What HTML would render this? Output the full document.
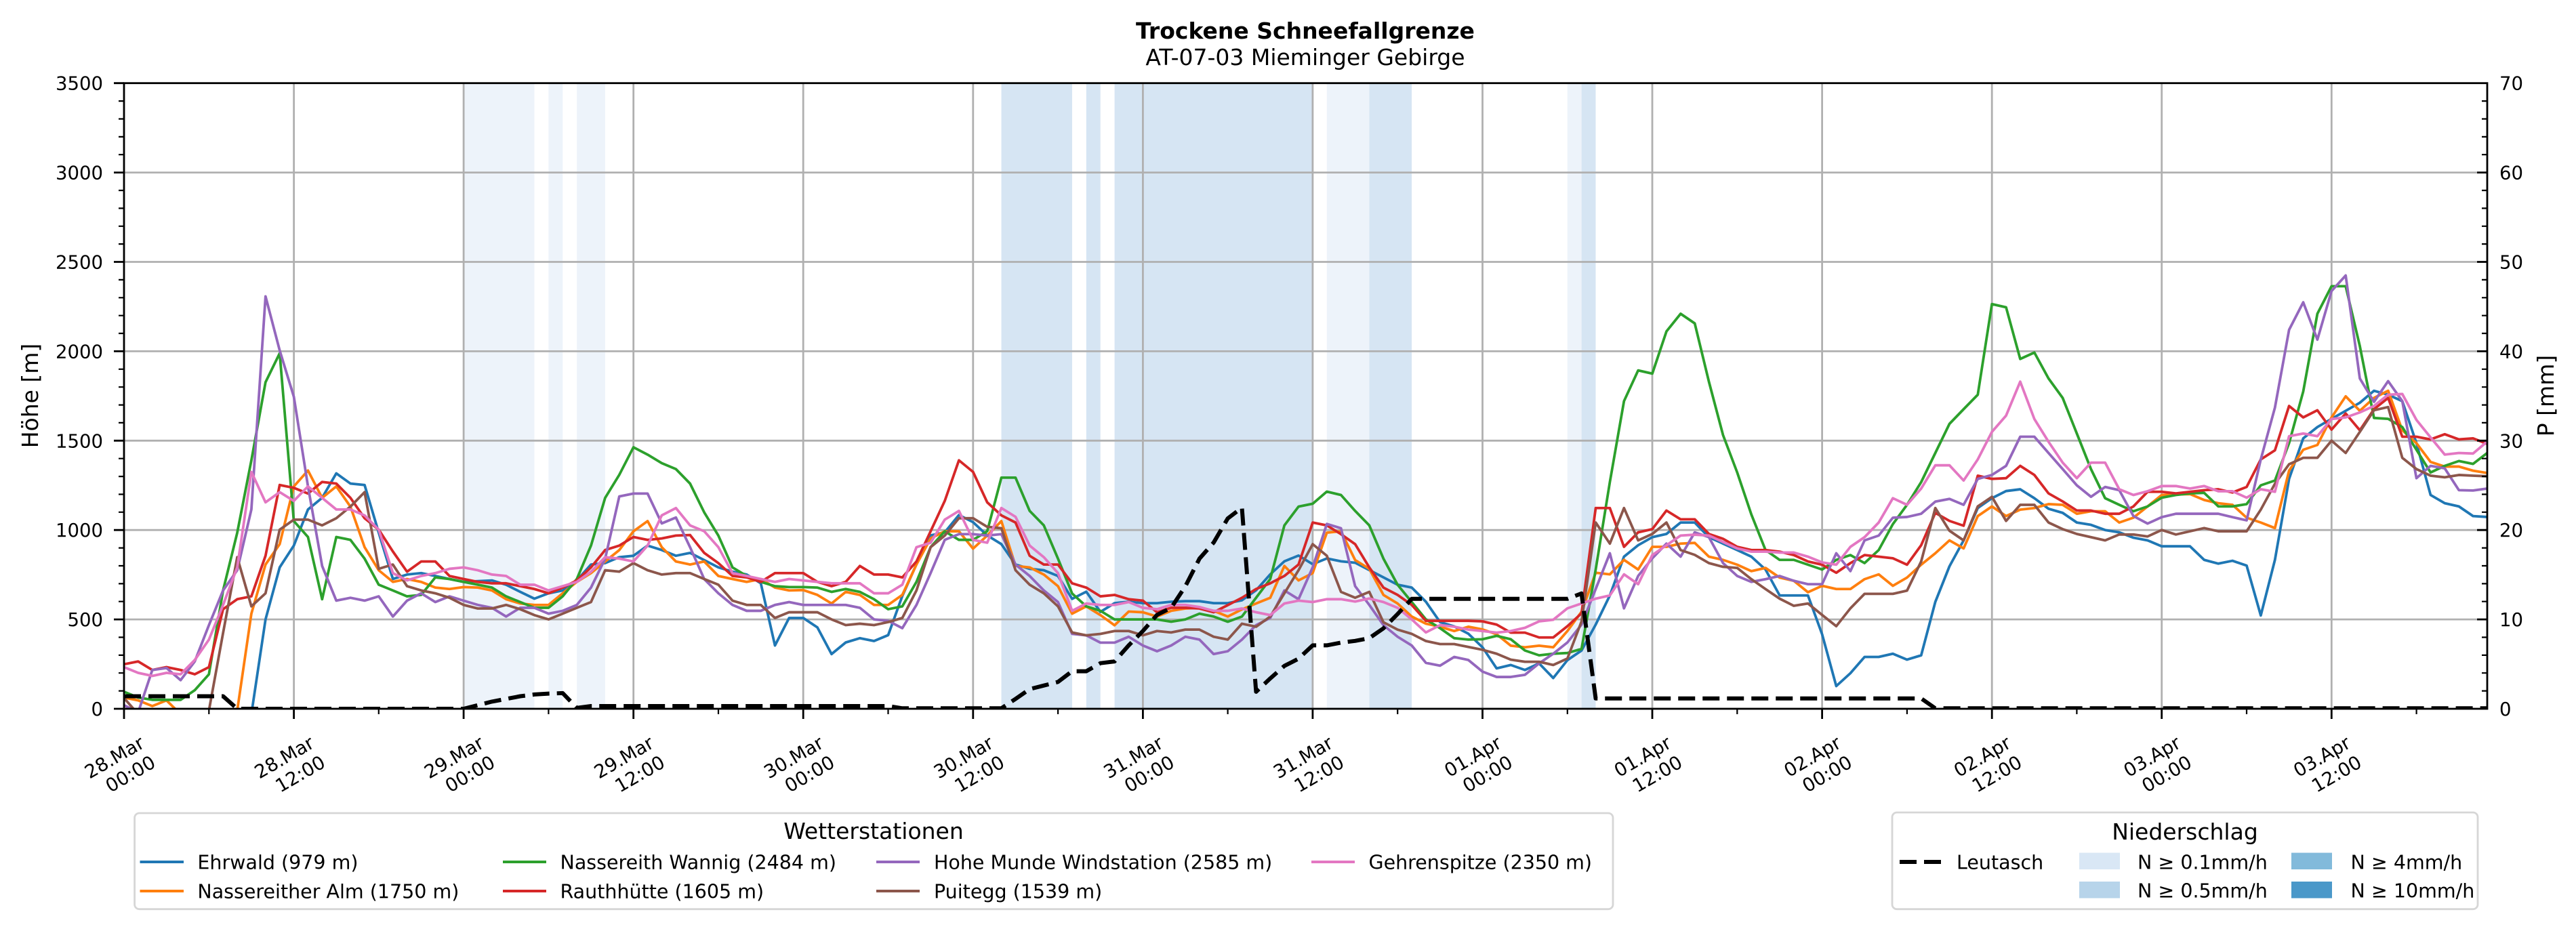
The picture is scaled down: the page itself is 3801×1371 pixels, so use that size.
<!DOCTYPE html>
<html><head><meta charset="utf-8"><title>Trockene Schneefallgrenze</title>
<style>
html,body{margin:0;padding:0;background:#fff;}
svg{display:block;font-family:"DejaVu Sans","Liberation Sans",sans-serif;}
</style></head><body>
<svg width="3801" height="1371" viewBox="0 0 3801 1371" xmlns="http://www.w3.org/2000/svg">
<defs><clipPath id="pc"><rect x="183" y="122.7" width="3487" height="923.3"/></clipPath></defs>
<rect width="3801" height="1371" fill="#fff"/>
<text x="1926" y="57" text-anchor="middle" font-size="33" font-weight="bold">Trockene Schneefallgrenze</text>
<text x="1926" y="96" text-anchor="middle" font-size="33">AT-07-03 Mieminger Gebirge</text>

<g clip-path="url(#pc)">
 <g transform="translate(183 1046) scale(20.88 -0.2638)">
  <g fill="#edf3fa">
   <rect x="24" y="0" width="5" height="3500"/>
   <rect x="30" y="0" width="1" height="3500"/>
   <rect x="32" y="0" width="2" height="3500"/>
   <rect x="85" y="0" width="3" height="3500"/>
   <rect x="102" y="0" width="1" height="3500"/>
  </g>
  <g fill="#d6e5f3">
   <rect x="62" y="0" width="5" height="3500"/>
   <rect x="68" y="0" width="1" height="3500"/>
   <rect x="70" y="0" width="14" height="3500"/>
   <rect x="88" y="0" width="3" height="3500"/>
   <rect x="103" y="0" width="1" height="3500"/>
  </g>
 </g>
 <g stroke="#b0b0b0" stroke-width="2.8" fill="none">
  <path d="M433.6,122.7V1046M684.1,122.7V1046M934.7,122.7V1046M1185.2,122.7V1046M1435.8,122.7V1046M1686.4,122.7V1046M1936.9,122.7V1046M2187.5,122.7V1046M2438,122.7V1046M2688.6,122.7V1046M2939.2,122.7V1046M3189.7,122.7V1046M3440.3,122.7V1046"/>
  <path d="M183,914.1H3670M183,782.2H3670M183,650.3H3670M183,518.4H3670M183,386.5H3670M183,254.6H3670"/>
 </g>
 <g transform="translate(183 1046) scale(20.88 -0.2638)" fill="none" stroke-width="3.8" stroke-linejoin="round">
  <polyline vector-effect="non-scaling-stroke" stroke="#1f77b4" points="0,-30 1,-30 2,-30 3,-30 4,-30 5,-30 6,-30 7,-30 8,-30 9,-30 10,500 11,791 12,913 13,1115 14,1180 15,1317 16,1260 17,1252 18,985 19,726 20,751 21,759 22,743 23,726 24,710 25,714 26,718 27,694 28,654 29,616 30,646 31,662 32,718 33,807 34,815 35,848 36,856 37,913 38,888 39,856 40,872 41,832 42,791 43,767 44,751 45,702 46,354 47,508 48,508 49,455 50,306 51,371 52,395 53,379 54,412 55,631 56,809 57,970 58,987 59,1084 60,1044 61,970 62,921 63,807 64,783 65,775 66,743 67,615 68,655 69,542 70,591 71,599 72,591 73,591 74,599 75,602 76,602 77,591 78,591 79,607 80,663 81,752 82,825 83,857 84,809 85,841 86,825 87,817 88,776 89,735 90,694 91,678 92,599 93,485 94,461 95,420 96,344 97,226 98,245 99,217 100,254 101,172 102,272 103,326 104,471 105,634 106,851 107,915 108,960 109,978 110,1042 111,1042 112,960 113,924 114,888 115,851 116,779 117,634 118,634 119,634 120,417 121,127 122,199 123,290 124,290 125,308 126,275 127,299 128,598 129,797 130,942 131,1123 132,1178 133,1218 134,1228 135,1178 136,1119 137,1096 138,1042 139,1029 140,1000 141,987 142,957 143,942 144,909 145,909 146,909 147,833 148,812 149,828 150,801 151,522 152,833 153,1286 154,1513 155,1576 156,1622 157,1667 158,1712 159,1779 160,1757 161,1721 162,1486 163,1196 164,1150 165,1132 166,1078 167,1073"/>
  <polyline vector-effect="non-scaling-stroke" stroke="#ff7f0e" points="0,63 1,47 2,15 3,47 4,-30 5,-30 6,-30 7,-30 8,-10 9,532 10,807 11,921 12,1244 13,1333 14,1180 15,1244 16,1131 17,904 18,775 19,710 20,726 21,710 22,678 23,670 24,681 25,678 26,662 27,613 28,589 29,581 30,581 31,646 32,710 33,759 34,824 35,888 36,993 37,1050 38,904 39,824 40,807 41,824 42,743 43,726 44,710 45,726 46,678 47,662 48,664 49,637 50,589 51,654 52,637 53,581 54,581 55,637 56,807 57,953 58,993 59,993 60,896 61,969 62,1050 63,799 64,791 65,751 66,686 67,532 68,573 69,524 70,467 71,544 72,540 73,516 74,548 75,561 76,565 77,548 78,516 79,556 80,589 81,621 82,799 83,718 84,759 85,985 86,993 87,832 88,783 89,637 90,589 91,516 92,476 93,459 94,435 95,459 96,444 97,417 98,353 99,344 100,353 101,344 102,435 103,543 104,761 105,752 106,833 107,779 108,906 109,906 110,924 111,928 112,851 113,833 114,806 115,770 116,788 117,734 118,716 119,652 120,688 121,670 122,670 123,725 124,752 125,688 126,734 127,806 128,870 129,942 130,897 131,1078 132,1132 133,1078 134,1114 135,1123 136,1145 137,1141 138,1091 139,1105 140,1105 141,1042 142,1069 143,1132 144,1196 145,1199 146,1201 147,1168 148,1150 149,1141 150,1069 151,1042 152,1011 153,1332 154,1449 155,1476 156,1630 157,1748 158,1667 159,1739 160,1779 161,1558 162,1486 163,1381 164,1355 165,1355 166,1332 167,1319"/>
  <polyline vector-effect="non-scaling-stroke" stroke="#2ca02c" points="0,95 1,63 2,50 3,50 4,50 5,104 6,193 7,662 8,985 9,1390 10,1827 11,1989 12,1050 13,961 14,613 15,961 16,945 17,840 18,694 19,662 20,629 21,637 22,735 23,726 24,710 25,694 26,678 27,629 28,597 29,565 30,565 31,629 32,726 33,913 34,1180 35,1309 36,1463 37,1422 38,1374 39,1341 40,1260 41,1099 42,969 43,791 44,743 45,710 46,686 47,681 48,681 49,678 50,654 51,670 52,654 53,613 54,557 55,573 56,710 57,904 58,993 59,945 60,945 61,993 62,1293 63,1293 64,1107 65,1026 66,840 67,645 68,573 69,548 70,500 71,500 72,500 73,500 74,487 75,500 76,532 77,516 78,487 79,516 80,621 81,726 82,1026 83,1131 84,1147 85,1215 86,1196 87,1107 88,1026 89,840 90,694 91,597 92,500 93,451 94,395 95,387 96,389 97,408 98,389 99,326 100,299 101,308 102,312 103,335 104,779 105,1268 106,1721 107,1893 108,1875 109,2111 110,2210 111,2156 112,1830 113,1531 114,1322 115,1087 116,888 117,833 118,833 119,806 120,779 121,833 122,860 123,815 124,888 125,1033 126,1141 127,1268 128,1431 129,1594 130,1676 131,1757 132,2264 133,2246 134,1957 135,1993 136,1848 137,1739 138,1540 139,1341 140,1178 141,1141 142,1105 143,1132 144,1181 145,1196 146,1205 147,1208 148,1132 149,1132 150,1145 151,1250 152,1277 153,1486 154,1775 155,2210 156,2364 157,2364 158,2029 159,1627 160,1622 161,1576 162,1449 163,1322 164,1359 165,1386 166,1370 167,1431"/>
  <polyline vector-effect="non-scaling-stroke" stroke="#d62728" points="0,249 1,265 2,217 3,233 4,217 5,193 6,233 7,557 8,613 9,629 10,856 11,1252 12,1236 13,1204 14,1269 15,1260 16,1180 17,1066 18,1002 19,880 20,767 21,824 22,824 23,743 24,726 25,710 26,702 27,702 28,686 29,670 30,646 31,678 32,718 33,791 34,888 35,913 36,961 37,945 38,953 39,969 40,972 41,872 42,815 43,743 44,735 45,710 46,759 47,759 48,759 49,710 50,686 51,710 52,799 53,751 54,751 55,735 56,824 57,993 58,1163 59,1390 60,1325 61,1155 62,1082 63,1042 64,856 65,807 66,807 67,702 68,678 69,629 70,637 71,613 72,605 73,540 74,565 75,565 76,561 77,540 78,580 79,621 80,670 81,702 82,743 83,807 84,1042 85,1026 86,977 87,921 88,791 89,678 90,637 91,581 92,492 93,492 94,492 95,492 96,489 97,471 98,426 99,426 100,399 101,399 102,462 103,534 104,1123 105,1123 106,906 107,987 108,1005 109,1109 110,1060 111,1060 112,978 113,951 114,906 115,888 116,888 117,879 118,860 119,824 120,806 121,761 122,815 123,860 124,851 125,842 126,806 127,915 128,1096 129,1051 130,1024 131,1304 132,1286 133,1290 134,1359 135,1308 136,1205 137,1160 138,1109 139,1109 140,1091 141,1091 142,1132 143,1214 144,1214 145,1205 146,1214 147,1223 148,1228 149,1210 150,1241 151,1395 152,1446 153,1694 154,1630 155,1670 156,1562 157,1652 158,1558 159,1676 160,1739 161,1522 162,1522 163,1507 164,1536 165,1507 166,1513 167,1482"/>
  <polyline vector-effect="non-scaling-stroke" stroke="#9467bd" points="0,20 1,-20 2,217 3,228 4,160 5,265 6,468 7,662 8,775 9,1115 10,2307 11,2005 12,1746 13,1244 14,799 15,605 16,621 17,605 18,629 19,516 20,605 21,646 22,597 23,629 24,605 25,581 26,565 27,516 28,565 29,565 30,532 31,548 32,581 33,678 34,840 35,1188 36,1204 37,1204 38,1037 39,1070 40,904 41,726 42,646 43,581 44,548 45,548 46,581 47,597 48,581 49,581 50,581 51,581 52,565 53,500 54,492 55,451 56,581 57,759 58,945 59,977 60,977 61,969 62,977 63,807 64,743 65,662 66,597 67,419 68,411 69,370 70,370 71,403 72,354 73,322 74,354 75,403 76,387 77,306 78,322 79,387 80,468 81,508 82,662 83,613 84,791 85,1034 86,1010 87,686 88,581 89,468 90,403 91,354 92,257 93,241 94,290 95,273 96,208 97,178 98,178 99,190 100,254 101,308 102,371 103,471 104,670 105,870 106,562 107,743 108,842 109,924 110,851 111,987 112,960 113,815 114,743 115,710 116,725 117,743 118,716 119,697 120,697 121,870 122,770 123,942 124,969 125,1069 126,1073 127,1091 128,1159 129,1174 130,1141 131,1286 132,1308 133,1359 134,1522 135,1522 136,1431 137,1341 138,1250 139,1186 140,1241 141,1223 142,1078 143,1036 144,1072 145,1091 146,1091 147,1091 148,1091 149,1072 150,1054 151,1395 152,1685 153,2120 154,2274 155,2065 156,2337 157,2424 158,1848 159,1717 160,1833 161,1721 162,1290 163,1359 164,1345 165,1223 166,1221 167,1232"/>
  <polyline vector-effect="non-scaling-stroke" stroke="#8c564b" points="0,60 1,-30 2,-30 3,-30 4,-30 5,-30 6,-10 7,424 8,848 9,573 10,646 11,1002 12,1058 13,1058 14,1026 15,1066 16,1131 17,1212 18,783 19,807 20,686 21,662 22,646 23,621 24,581 25,561 26,561 27,581 28,557 29,524 30,500 31,532 32,565 33,597 34,775 35,767 36,815 37,775 38,751 39,759 40,759 41,726 42,694 43,605 44,581 45,581 46,508 47,540 48,540 49,540 50,500 51,468 52,476 53,468 54,485 55,508 56,662 57,904 58,969 59,1066 60,1066 61,1018 62,1010 63,775 64,694 65,646 66,573 67,427 68,411 69,419 70,435 71,435 72,411 73,435 74,427 75,443 76,443 77,403 78,387 79,476 80,459 81,516 82,646 83,775 84,921 85,856 86,654 87,621 88,654 89,484 90,443 91,419 92,379 93,362 94,362 95,346 96,330 97,308 98,275 99,263 100,263 101,245 102,281 103,489 104,1042 105,924 106,1123 107,942 108,978 109,1042 110,888 111,861 112,815 113,794 114,788 115,725 116,670 117,616 118,576 119,589 120,525 121,462 122,562 123,643 124,643 125,643 126,661 127,824 128,1123 129,996 130,942 131,1132 132,1186 133,1051 134,1141 135,1141 136,1042 137,1005 138,978 139,960 140,942 141,975 142,975 143,964 144,1000 145,975 146,993 147,1011 148,993 149,993 150,993 151,1114 152,1259 153,1368 154,1404 155,1404 156,1500 157,1431 158,1549 159,1670 160,1688 161,1404 162,1341 163,1304 164,1295 165,1308 166,1304 167,1301"/>
  <polyline vector-effect="non-scaling-stroke" stroke="#e377c2" points="0,233 1,201 2,184 3,201 4,193 5,273 6,387 7,581 8,791 9,1325 10,1155 11,1212 12,1163 13,1244 14,1180 15,1115 16,1115 17,1082 18,1002 19,759 20,718 21,743 22,759 23,783 24,791 25,775 26,751 27,743 28,694 29,694 30,662 31,686 32,710 33,767 34,848 35,840 36,824 37,913 38,1082 39,1123 40,1026 41,993 42,904 43,759 44,743 45,726 46,710 47,726 48,718 49,710 50,702 51,702 52,702 53,646 54,646 55,694 56,904 57,929 58,1058 59,1107 60,945 61,929 62,1123 63,1074 64,913 65,848 66,759 67,548 68,589 69,581 70,581 71,597 72,565 73,557 74,581 75,581 76,569 77,548 78,548 79,561 80,540 81,524 82,589 83,605 84,597 85,613 86,613 87,600 88,617 89,597 90,565 91,500 92,427 93,468 94,459 95,443 96,435 97,426 98,435 99,453 100,489 101,498 102,562 103,589 104,616 105,634 106,752 107,697 108,860 109,915 110,969 111,974 112,969 113,933 114,897 115,879 116,879 117,874 118,874 119,851 120,819 121,806 122,906 123,960 124,1042 125,1178 126,1141 127,1232 128,1362 129,1362 130,1277 131,1395 132,1549 133,1640 134,1830 135,1621 136,1494 137,1377 138,1290 139,1377 140,1377 141,1228 142,1196 143,1217 144,1246 145,1246 146,1232 147,1246 148,1217 149,1217 150,1181 151,1228 152,1214 153,1525 154,1540 155,1525 156,1621 157,1630 158,1658 159,1694 160,1757 161,1761 162,1616 163,1518 164,1422 165,1431 166,1428 167,1495"/>
 </g>
 <path fill="none" stroke="#000" stroke-width="6" stroke-dasharray="25 11" stroke-linejoin="round" d="M183,1027.5 L329.2,1027.5 L350,1046 L684.1,1046 L705,1040.7 L725.9,1035.4 L746.8,1031.5 L767.6,1027.5 L788.5,1024.9 L809.4,1023.6 L830.3,1022.9 L851.2,1044.7 L872,1042 L1310.5,1042 L1331.4,1045.3 L1477.6,1045.3 L1498.4,1031.5 L1519.3,1017 L1540.2,1011.7 L1561.1,1006.4 L1581.9,990.6 L1602.8,990.6 L1623.7,978.7 L1644.6,976.1 L1665.5,952.4 L1686.4,931.2 L1707.2,907.5 L1728.1,897 L1749,865.3 L1769.9,824.4 L1790.8,800.7 L1811.6,765.1 L1832.5,749.2 L1853.4,1020.9 L1874.3,1001.2 L1895.2,982.7 L1916,972.1 L1936.9,952.4 L1957.8,952.4 L1978.7,948.4 L1999.6,945.8 L2020.4,941.8 L2041.3,927.3 L2062.2,906.2 L2083.1,883.8 L2312.8,883.8 L2333.6,875.8 L2354.5,1030.7 L2834.8,1030.7 L2855.6,1045.3 L3670,1045.3"/>
</g>

<!-- spines -->
<rect x="183" y="122.7" width="3487" height="923.3" fill="none" stroke="#000" stroke-width="2.8"/>

<!-- ticks -->
<g stroke="#000" stroke-width="2.8" fill="none">
 <path d="M183,1046V1061M433.6,1046V1061M684.1,1046V1061M934.7,1046V1061M1185.2,1046V1061M1435.8,1046V1061M1686.4,1046V1061M1936.9,1046V1061M2187.5,1046V1061M2438,1046V1061M2688.6,1046V1061M2939.2,1046V1061M3189.7,1046V1061M3440.3,1046V1061"/>
 <path stroke-width="2.2" d="M308.3,1046V1054M558.8,1046V1054M809.4,1046V1054M1060,1046V1054M1310.5,1046V1054M1561.1,1046V1054M1811.6,1046V1054M2062.2,1046V1054M2312.8,1046V1054M2563.3,1046V1054M2813.9,1046V1054M3064.4,1046V1054M3315,1046V1054M3565.6,1046V1054"/>
 <path d="M168,1046H183M168,914.1H183M168,782.2H183M168,650.3H183M168,518.4H183M168,386.5H183M168,254.6H183M168,122.7H183"/>
 <path stroke-width="2.2" d="M175,1019.6H183M175,993.2H183M175,966.9H183M175,940.5H183M175,887.7H183M175,861.4H183M175,835H183M175,808.6H183M175,755.8H183M175,729.5H183M175,703.1H183M175,676.7H183M175,623.9H183M175,597.6H183M175,571.2H183M175,544.8H183M175,492H183M175,465.7H183M175,439.3H183M175,412.9H183M175,360.1H183M175,333.8H183M175,307.4H183M175,281H183M175,228.2H183M175,201.9H183M175,175.5H183M175,149.1H183"/>
 <path d="M3655,914.1H3670M3655,782.2H3670M3655,650.3H3670M3655,518.4H3670M3655,386.5H3670M3655,254.6H3670"/>
 <path stroke-width="2.2" d="M3662,1019.6H3670M3662,993.2H3670M3662,966.9H3670M3662,940.5H3670M3662,887.7H3670M3662,861.4H3670M3662,835H3670M3662,808.6H3670M3662,755.8H3670M3662,729.5H3670M3662,703.1H3670M3662,676.7H3670M3662,623.9H3670M3662,597.6H3670M3662,571.2H3670M3662,544.8H3670M3662,492H3670M3662,465.7H3670M3662,439.3H3670M3662,412.9H3670M3662,360.1H3670M3662,333.8H3670M3662,307.4H3670M3662,281H3670M3662,228.2H3670M3662,201.9H3670M3662,175.5H3670M3662,149.1H3670"/>
</g>

<!-- y tick labels -->
<g font-size="27.5" text-anchor="end">
 <text x="152" y="1056">0</text>
 <text x="152" y="924.1">500</text>
 <text x="152" y="792.2">1000</text>
 <text x="152" y="660.3">1500</text>
 <text x="152" y="528.4">2000</text>
 <text x="152" y="396.5">2500</text>
 <text x="152" y="264.6">3000</text>
 <text x="152" y="132.7">3500</text>
</g>
<g font-size="27.5" text-anchor="start">
 <text x="3688" y="1056">0</text>
 <text x="3688" y="924.1">10</text>
 <text x="3688" y="792.2">20</text>
 <text x="3688" y="660.3">30</text>
 <text x="3688" y="528.4">40</text>
 <text x="3688" y="396.5">50</text>
 <text x="3688" y="264.6">60</text>
 <text x="3688" y="132.7">70</text>
</g>

<!-- x tick labels -->
<g font-size="27.5" text-anchor="end">
 <g transform="translate(215,1102) rotate(-30)"><text><tspan x="0" y="0">28.Mar</tspan><tspan x="0" y="33">00:00</tspan></text></g>
 <g transform="translate(465.6,1102) rotate(-30)"><text><tspan x="0" y="0">28.Mar</tspan><tspan x="0" y="33">12:00</tspan></text></g>
 <g transform="translate(716.1,1102) rotate(-30)"><text><tspan x="0" y="0">29.Mar</tspan><tspan x="0" y="33">00:00</tspan></text></g>
 <g transform="translate(966.7,1102) rotate(-30)"><text><tspan x="0" y="0">29.Mar</tspan><tspan x="0" y="33">12:00</tspan></text></g>
 <g transform="translate(1217.2,1102) rotate(-30)"><text><tspan x="0" y="0">30.Mar</tspan><tspan x="0" y="33">00:00</tspan></text></g>
 <g transform="translate(1467.8,1102) rotate(-30)"><text><tspan x="0" y="0">30.Mar</tspan><tspan x="0" y="33">12:00</tspan></text></g>
 <g transform="translate(1718.4,1102) rotate(-30)"><text><tspan x="0" y="0">31.Mar</tspan><tspan x="0" y="33">00:00</tspan></text></g>
 <g transform="translate(1968.9,1102) rotate(-30)"><text><tspan x="0" y="0">31.Mar</tspan><tspan x="0" y="33">12:00</tspan></text></g>
 <g transform="translate(2217.5,1102) rotate(-30)"><text><tspan x="0" y="0">01.Apr</tspan><tspan x="0" y="33">00:00</tspan></text></g>
 <g transform="translate(2468,1102) rotate(-30)"><text><tspan x="0" y="0">01.Apr</tspan><tspan x="0" y="33">12:00</tspan></text></g>
 <g transform="translate(2718.6,1102) rotate(-30)"><text><tspan x="0" y="0">02.Apr</tspan><tspan x="0" y="33">00:00</tspan></text></g>
 <g transform="translate(2969.2,1102) rotate(-30)"><text><tspan x="0" y="0">02.Apr</tspan><tspan x="0" y="33">12:00</tspan></text></g>
 <g transform="translate(3219.7,1102) rotate(-30)"><text><tspan x="0" y="0">03.Apr</tspan><tspan x="0" y="33">00:00</tspan></text></g>
 <g transform="translate(3470.3,1102) rotate(-30)"><text><tspan x="0" y="0">03.Apr</tspan><tspan x="0" y="33">12:00</tspan></text></g>
</g>

<!-- axis labels -->
<text transform="translate(56,584) rotate(-90)" text-anchor="middle" font-size="33">Höhe [m]</text>
<text transform="translate(3768,584) rotate(-90)" text-anchor="middle" font-size="33">P [mm]</text>

<!-- left legend -->
<rect x="198.6" y="1200" width="2181.4" height="141.7" rx="7" ry="7" fill="#fff" stroke="#d6d6d6" stroke-width="2.8"/>
<g font-size="28.5">
 <text x="1289" y="1238" text-anchor="middle" font-size="33">Wetterstationen</text>
 <g stroke-width="4" fill="none">
  <path stroke="#1f77b4" d="M206.5,1272H271"/>
  <path stroke="#ff7f0e" d="M206.5,1315H271"/>
  <path stroke="#2ca02c" d="M742,1272H806"/>
  <path stroke="#d62728" d="M742,1315H806"/>
  <path stroke="#9467bd" d="M1293,1272H1357"/>
  <path stroke="#8c564b" d="M1293,1315H1357"/>
  <path stroke="#e377c2" d="M1935,1272H1999"/>
 </g>
 <text x="291.4" y="1282.4">Ehrwald (979 m)</text>
 <text x="291.4" y="1325.4">Nassereither Alm (1750 m)</text>
 <text x="826.5" y="1282.4">Nassereith Wannig (2484 m)</text>
 <text x="826.5" y="1325.4">Rauthhütte (1605 m)</text>
 <text x="1378" y="1282.4">Hohe Munde Windstation (2585 m)</text>
 <text x="1378" y="1325.4">Puitegg (1539 m)</text>
 <text x="2019.5" y="1282.4">Gehrenspitze (2350 m)</text>
</g>

<!-- right legend -->
<rect x="2792" y="1199" width="864" height="142.7" rx="7" ry="7" fill="#fff" stroke="#d6d6d6" stroke-width="2.8"/>
<g font-size="28.5">
 <text x="3224" y="1239" text-anchor="middle" font-size="33">Niederschlag</text>
 <path stroke="#000" stroke-width="6" stroke-dasharray="25 11" fill="none" d="M2803,1272H2867"/>
 <text x="2887" y="1282.4">Leutasch</text>
 <rect x="3068" y="1258.5" width="60" height="24.5" fill="#d9e7f5"/>
 <rect x="3068" y="1301" width="60" height="24.5" fill="#b7d4ea"/>
 <rect x="3381" y="1258.5" width="60" height="24.5" fill="#82badb"/>
 <rect x="3381" y="1301" width="60" height="24.5" fill="#4a98c9"/>
 <text x="3154" y="1282.4">N ≥ 0.1mm/h</text>
 <text x="3154" y="1324.4">N ≥ 0.5mm/h</text>
 <text x="3468.5" y="1282.4">N ≥ 4mm/h</text>
 <text x="3468.5" y="1324.4">N ≥ 10mm/h</text>
</g>
</svg>
</body></html>
